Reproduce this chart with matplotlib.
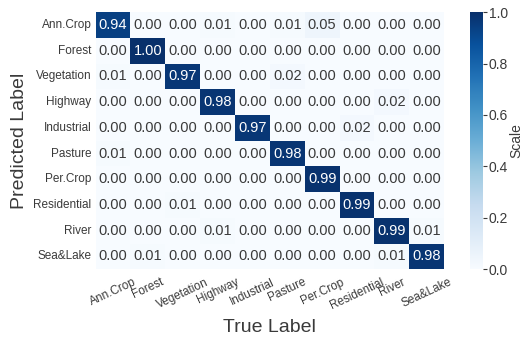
"""
Confusion matrix heatmap (EuroSAT classes)
"""

import matplotlib
matplotlib.use('Agg')
import matplotlib.pyplot as plt
import seaborn as sns
import numpy as np

classes = ["Ann.Crop", "Forest", "Vegetation", "Highway", "Industrial",
           "Pasture", "Per.Crop", "Residential", "River", "Sea&Lake"]

# rows = predicted, cols = true
row_annual_crop = [0.94, 0.00, 0.00, 0.01, 0.00, 0.01, 0.05, 0.00, 0.00, 0.00]
row_forest      = [0.00, 1.00, 0.00, 0.00, 0.00, 0.00, 0.00, 0.00, 0.00, 0.00]
row_vegetation  = [0.01, 0.00, 0.97, 0.00, 0.00, 0.02, 0.00, 0.00, 0.00, 0.00]
row_highway     = [0.00, 0.00, 0.00, 0.98, 0.00, 0.00, 0.00, 0.00, 0.02, 0.00]
row_industrial  = [0.00, 0.00, 0.00, 0.00, 0.97, 0.00, 0.00, 0.02, 0.00, 0.00]
row_pasture     = [0.01, 0.00, 0.00, 0.00, 0.00, 0.98, 0.00, 0.00, 0.00, 0.00]
row_perm_crop   = [0.00, 0.00, 0.00, 0.00, 0.00, 0.00, 0.99, 0.00, 0.00, 0.00]
row_residential = [0.00, 0.00, 0.01, 0.00, 0.00, 0.00, 0.00, 0.99, 0.00, 0.00]
row_river       = [0.00, 0.00, 0.00, 0.01, 0.00, 0.00, 0.00, 0.00, 0.99, 0.01]
row_sea_lake    = [0.00, 0.01, 0.00, 0.00, 0.00, 0.00, 0.00, 0.00, 0.01, 0.98]

sns.set_theme(style='white')
plt.rcParams['font.family'] = ['Liberation Sans', 'DejaVu Sans']
# slightly softer grey text, like the original
plt.rcParams['text.color'] = '#3a3a3a'
plt.rcParams['axes.labelcolor'] = '#3a3a3a'
plt.rcParams['xtick.color'] = '#3a3a3a'
plt.rcParams['ytick.color'] = '#3a3a3a'

def draw_confusion():
    cm = np.array([row_annual_crop, row_forest, row_vegetation, row_highway,
                   row_industrial, row_pasture, row_perm_crop, row_residential,
                   row_river, row_sea_lake])

    fig = plt.figure(figsize=(5.25, 3.37), dpi=100)
    ax = fig.add_axes([0.182, 0.201, 0.664, 0.763])
    cax = fig.add_axes([0.895, 0.201, 0.025, 0.763])

    sns.heatmap(cm, ax=ax, cbar_ax=cax, cmap='Blues', vmin=0, vmax=1,
                annot=True, fmt='.2f',
                annot_kws={'fontsize': 10.5},
                xticklabels=classes, yticklabels=classes)

    # white annotations on dark cells, grey on the light ones
    for t in ax.texts:
        if float(t.get_text()) < 0.5:
            t.set_color('#3a3a3a')

    ax.set_xticklabels(classes, rotation=25, ha='center', fontsize=8.5)
    ax.set_yticklabels(classes, rotation=0, fontsize=8.5)
    ax.tick_params(axis='y', length=0, pad=3)
    ax.tick_params(axis='x', length=0, pad=5)
    ax.set_xlabel('True Label', fontsize=14, labelpad=5)
    ax.set_ylabel('Predicted Label', fontsize=14)

    cax.tick_params(labelsize=10, length=3, width=0.8, pad=1)
    cax.set_ylabel('Scale', fontsize=10, labelpad=1)

    fig.savefig('out.png', dpi=100, facecolor='white')
    plt.close(fig)

if __name__ == "__main__":
    draw_confusion()
